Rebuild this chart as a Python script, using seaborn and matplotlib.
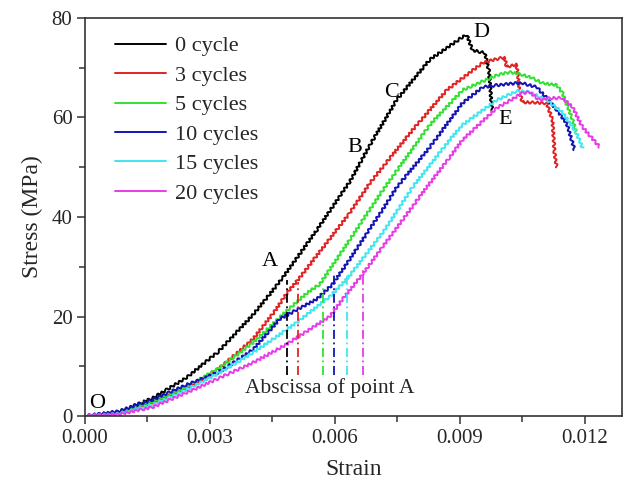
import numpy as np
import pandas as pd
import matplotlib
matplotlib.use("Agg")
import matplotlib.pyplot as plt
import seaborn as sns
from matplotlib.ticker import MultipleLocator, FormatStrFormatter

# ---- data (strain in units of 1e-3, stress in MPa) ----
series_names = ["0 cycle", "3 cycles", "5 cycles", "10 cycles", "15 cycles", "20 cycles"]
colors = ["#000000", "#e02424", "#33e133", "#1414b4", "#40e6f0", "#e83ce8"]

x0 = [0, 0.8, 1.63, 2.42, 3.2, 4.03, 4.44, 4.75, 5.57, 6.36, 6.84, 7.49, 8.28, 9.07, 9.17, 9.31, 9.6, 9.7, 9.78]
y0 = [0, 0.8, 3.6, 7.6, 12.9, 20.3, 24.5, 27.8, 37.4, 47.1, 54.4, 63.6, 71.6, 76.2, 76.6, 73.5, 73.0, 69.5, 61.5]

x3 = [0, 0.8, 1.63, 2.42, 3.2, 4.03, 4.58, 4.85, 5.11, 6.36, 6.84, 7.87, 8.69, 9.55, 9.96, 10.08, 10.13, 10.37, 10.44, 10.51, 11.09, 11.23, 11.28, 11.33]
y3 = [0, 0.6, 2.8, 5.4, 9.4, 15.4, 21.3, 24.7, 27.3, 40.8, 46.8, 57.5, 65.5, 71.0, 71.9, 72.0, 70.2, 70.6, 65.0, 63.1, 62.9, 59.5, 52.9, 50.0]

x5 = [0, 0.8, 1.63, 2.42, 3.22, 4.03, 4.82, 5.33, 5.64, 6.36, 7.12, 8.28, 9.07, 9.89, 10.2, 10.47, 10.75, 10.99, 11.33, 11.47, 11.69, 11.8]
y5 = [0, 0.7, 3.0, 5.8, 9.6, 14.7, 20.9, 24.7, 26.5, 35.4, 45.0, 58.5, 65.5, 68.5, 69.1, 68.7, 67.9, 66.9, 66.5, 64.9, 60.1, 57.0]

x10 = [0, 0.8, 1.63, 2.42, 3.22, 4.03, 4.68, 5.57, 5.95, 6.36, 7.15, 7.49, 8.28, 9.07, 9.55, 9.89, 10.37, 10.51, 10.85, 11.09, 11.33, 11.57, 11.76]
y10 = [0, 0.9, 3.3, 6.2, 8.8, 13.3, 19.5, 23.5, 26.5, 31.5, 41.5, 46.0, 54.0, 62.9, 66.1, 66.5, 66.9, 66.9, 66.1, 63.9, 61.5, 58.9, 53.5]

x15 = [0, 0.8, 1.63, 2.42, 3.22, 4.03, 4.82, 5.09, 5.88, 6.29, 7.15, 7.87, 8.76, 9.07, 9.89, 10.37, 10.68, 11.09, 11.47, 11.81, 11.95]
y15 = [0, 0.4, 2.2, 5.2, 8.6, 12.7, 17.2, 18.8, 24.0, 27.5, 36.8, 46.0, 55.5, 58.5, 63.5, 65.3, 65.1, 63.5, 61.0, 56.9, 53.9]

x20 = [0, 0.8, 1.63, 2.42, 3.22, 4.03, 4.82, 5.88, 6.19, 6.67, 7.15, 8.21, 8.76, 9.07, 9.89, 10.51, 10.68, 10.92, 11.16, 11.47, 11.71, 11.95, 12.36]
y20 = [0, 0.3, 1.8, 4.6, 7.6, 10.7, 14.3, 20.0, 23.5, 28.5, 34.0, 46.0, 52.0, 55.5, 61.9, 64.9, 65.1, 63.5, 63.9, 63.9, 62.1, 58.1, 54.1]

# abscissa of point A for each curve
a_x = [4.85, 5.11, 5.71, 5.98, 6.29, 6.67]
a_top = [27.3, 26.9, 25.9, 28.9, 28.9, 29.3]
a_bottom = 8.2

point_labels = ["O", "A", "B", "C", "D", "E"]
point_x = [0.29, 4.44, 6.48, 7.37, 9.53, 10.1]
point_y = [2.6, 31.0, 54.0, 65.0, 77.0, 59.5]

xs = [x0, x3, x5, x10, x15, x20]
ys = [y0, y3, y5, y10, y15, y20]

frames = []
for name, xx, yy in zip(series_names, xs, ys):
    frames.append(pd.DataFrame({"Strain": np.array(xx) * 1e-3, "Stress": yy, "series": name}))
df = pd.concat(frames, ignore_index=True)

# ---- style ----
sns.set_theme(style="ticks")
plt.rcParams["font.family"] = ["Liberation Serif", "DejaVu Serif"]

fig = plt.figure(figsize=(6.3, 4.9), dpi=100)
ax = fig.add_axes([85 / 630, 74 / 490, 537 / 630, 398 / 490])

palette = dict(zip(series_names, colors))
sns.lineplot(data=df, x="Strain", y="Stress", hue="series", hue_order=series_names,
             palette=palette, sort=False, estimator=None, linewidth=1.4, ax=ax)
# serrated look of the measured curves
for ln in ax.get_lines():
    ln.set_sketch_params(scale=1.3, length=5, randomness=1.5)

for xa, top, c in zip(a_x, a_top, colors):
    ax.vlines(xa * 1e-3, a_bottom, top, colors=c, linestyles=(0, (5, 2, 1, 2)), linewidth=1.3)

for lab, px, py in zip(point_labels, point_x, point_y):
    ax.text(px * 1e-3, py, lab, fontsize=16, ha="center", va="center", color="black")

ax.text(5.88e-3, 5.6, "Abscissa of point A", fontsize=15.5, ha="center", va="center")

ax.set_xlim(0, 0.0129)
ax.set_ylim(0, 80)
ax.xaxis.set_major_locator(MultipleLocator(0.003))
ax.xaxis.set_minor_locator(MultipleLocator(0.0015))
ax.yaxis.set_major_locator(MultipleLocator(20))
ax.yaxis.set_minor_locator(MultipleLocator(10))
ax.xaxis.set_major_formatter(FormatStrFormatter("%.3f"))
ax.tick_params(which="major", direction="out", length=6, width=1.1, labelsize=15, color="#333333", pad=3)
ax.tick_params(which="minor", direction="out", length=4, width=1.1, color="#333333")
ax.tick_params(top=False, right=False, which="both")
for s in ax.spines.values():
    s.set_visible(True)
    s.set_linewidth(1.2)
    s.set_color("#333333")

ax.set_xlabel("Strain", fontsize=17, labelpad=8)
ax.set_ylabel("Stress (MPa)", fontsize=17, labelpad=6)

handles, labels = ax.get_legend_handles_labels()
for h in handles:
    h.set_sketch_params(None)
leg = ax.legend(handles, labels, loc="upper left", bbox_to_anchor=(0.056, 0.955), frameon=False,
                fontsize=16, handlelength=2.3, handletextpad=0.4, labelspacing=0.40, borderpad=0, borderaxespad=0)

fig.savefig("out.png", dpi=100)
